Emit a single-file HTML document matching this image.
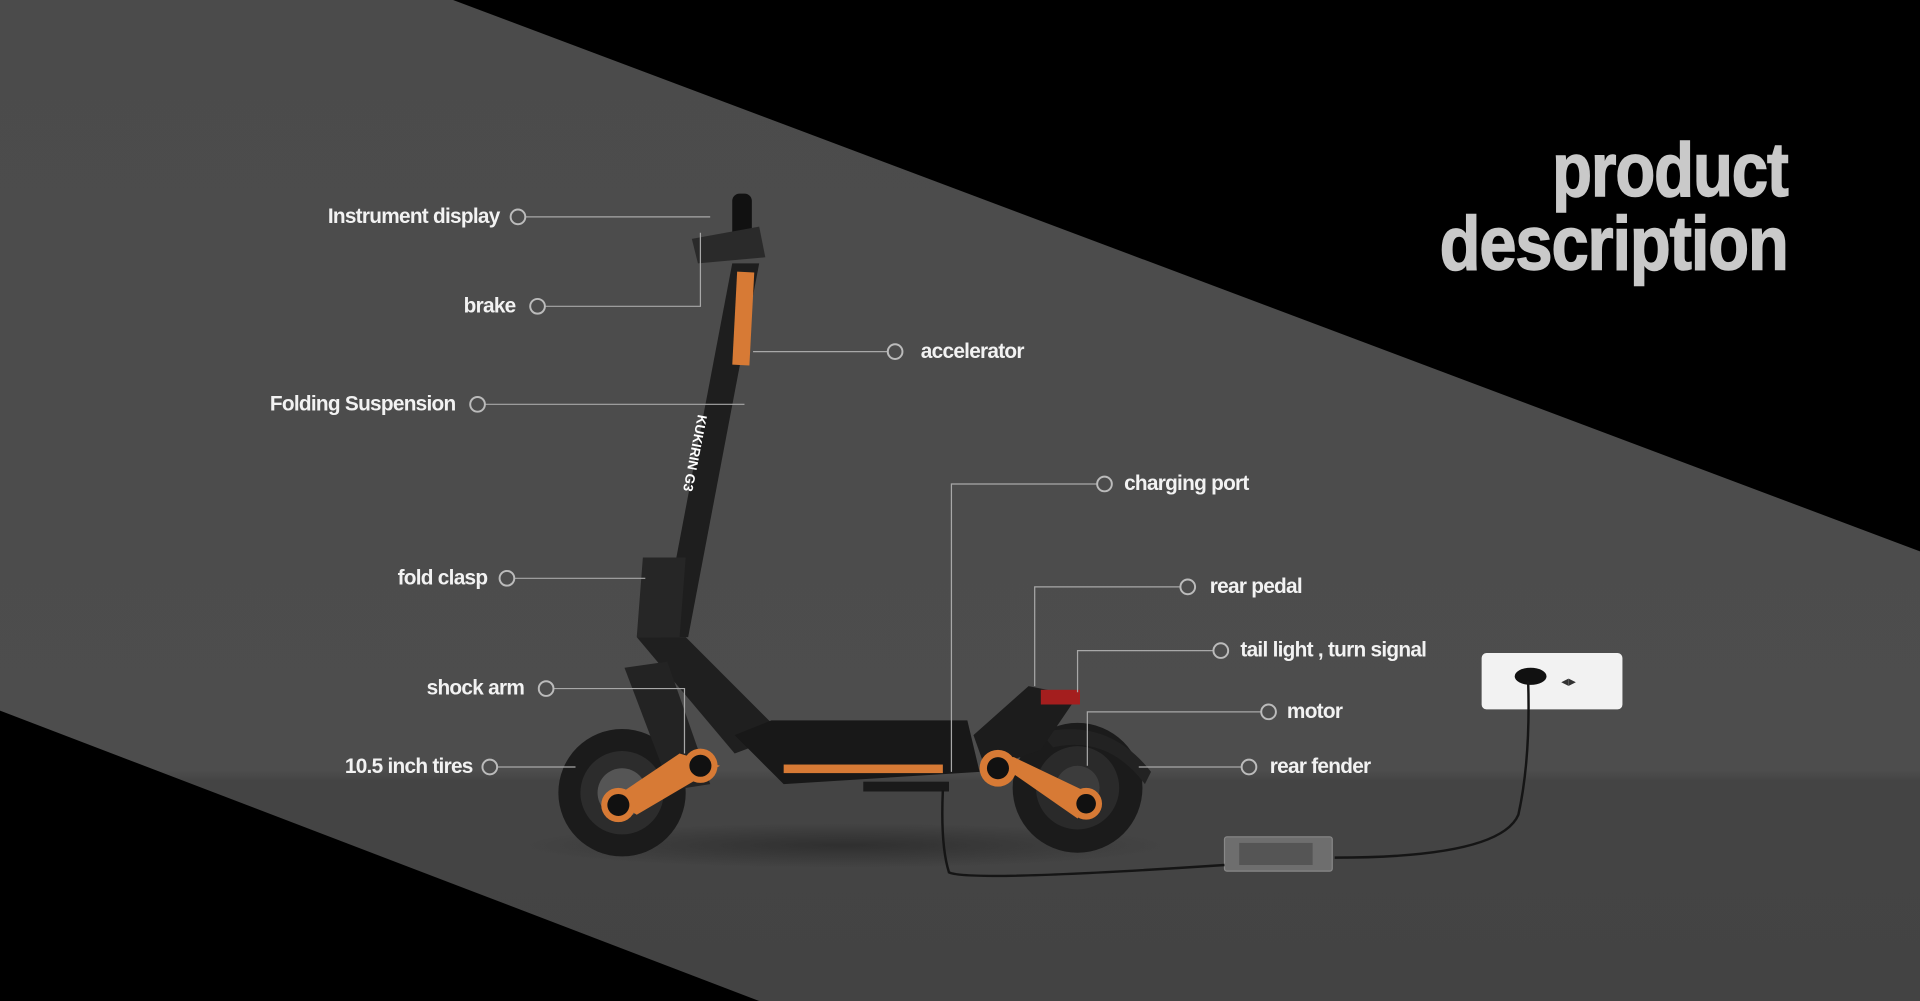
<!DOCTYPE html>
<html><head><meta charset="utf-8"><style>
html,body{margin:0;padding:0;background:#4a4a4a;overflow:hidden}
svg{display:block}
.l{font-family:"Liberation Sans",sans-serif;font-weight:bold;font-size:17px;fill:#f2f2f2;letter-spacing:-0.6px}
</style></head><body>
<svg width="1920" height="1001" viewBox="0 0 1568 817" preserveAspectRatio="none" xmlns="http://www.w3.org/2000/svg">
<defs>
<linearGradient id="bg" x1="0" y1="0" x2="0" y2="1">
<stop offset="0" stop-color="#4b4b4b"/><stop offset="0.77" stop-color="#4d4d4d"/><stop offset="0.78" stop-color="#444"/><stop offset="1" stop-color="#434343"/>
</linearGradient>
<radialGradient id="sh" cx="0.5" cy="0.5" r="0.5"><stop offset="0" stop-color="#2a2a2a" stop-opacity="0.8"/><stop offset="1" stop-color="#2a2a2a" stop-opacity="0"/></radialGradient>
</defs>
<rect width="1568" height="817" fill="url(#bg)"/>
<polygon points="370,0 1568,0 1568,450" fill="#000"/>
<polygon points="0,580 620,817 0,817" fill="#000"/>
<g font-family="Liberation Sans, sans-serif" font-weight="bold" fill="#c9c9c9" text-anchor="end" stroke="#c9c9c9" stroke-width="1.2">
<text x="1460" y="160" font-size="62" transform="translate(1460 0) scale(0.86 1) translate(-1460 0)" letter-spacing="-1">product</text>
<text x="1460" y="220" font-size="62" transform="translate(1460 0) scale(0.88 1) translate(-1460 0)" letter-spacing="-1">description</text>
</g>
<ellipse cx="690" cy="690" rx="260" ry="18" fill="url(#sh)"/>
<g>
<circle cx="508" cy="647" r="52" fill="#1b1b1b"/>
<circle cx="508" cy="647" r="34" fill="#2c2c2c"/>
<circle cx="508" cy="647" r="20" fill="#555"/>
<circle cx="880" cy="643" r="53" fill="#1b1b1b"/>
<circle cx="880" cy="643" r="34" fill="#2a2a2a"/>
<circle cx="880" cy="643" r="18" fill="#3c3c3c"/>
<path d="M850 598 Q905 585 940 630 L935 640 Q905 600 860 610 Z" fill="#222"/>
<polygon points="598,215 620,215 562,520 540,520" fill="#1e1e1e"/>
<rect x="600" y="222" width="14" height="76" fill="#d77a35" transform="rotate(3 607 260)"/>
<text x="0" y="0" font-family="Liberation Sans,sans-serif" font-size="11" font-weight="bold" fill="#fff" transform="translate(570 338) rotate(101)">KUKIRIN G3</text>
<rect x="598" y="158" width="16" height="40" rx="6" fill="#111"/>
<path d="M565 195 L620 185 L625 210 L570 215 Z" fill="#2a2a2a"/>
<polygon points="525,455 560,455 555,520 520,520" fill="#262626"/>
<polygon points="520,520 560,520 640,600 600,615" fill="#1f1f1f"/>
<polygon points="510,545 545,540 580,640 548,645" fill="#232323"/>
<polygon points="600,600 630,588 790,588 800,630 640,640" fill="#181818"/>
<rect x="640" y="624" width="130" height="7" fill="#d77a35"/>
<polygon points="795,600 840,560 880,568 850,612 805,628" fill="#1c1c1c"/>
<rect x="850" y="563" width="32" height="12" fill="#a41e1e"/>
<polygon points="555,615 588,625 520,665 500,652" fill="#d77a35"/>
<circle cx="572" cy="625" r="14" fill="#d77a35"/><circle cx="572" cy="625" r="9" fill="#111"/>
<circle cx="505" cy="657" r="14" fill="#d77a35"/><circle cx="505" cy="657" r="9" fill="#111"/>
<polygon points="808,618 828,618 895,650 880,668" fill="#d77a35"/>
<circle cx="815" cy="627" r="15" fill="#d77a35"/><circle cx="815" cy="627" r="9" fill="#111"/>
<circle cx="887" cy="656" r="13" fill="#d77a35"/><circle cx="887" cy="656" r="8" fill="#111"/>
<rect x="705" y="638" width="70" height="8" fill="#1a1a1a"/>
</g>
<rect x="1210" y="533" width="115" height="46" rx="4" fill="#f2f2f2"/>
<ellipse cx="1250" cy="552" rx="13" ry="7" fill="#111"/>
<text x="1275" y="560" font-size="12" fill="#333" font-family="Liberation Sans,sans-serif">◂▸</text>
<path d="M1248 556 Q1250 620 1240 665 Q1225 700 1090 700" stroke="#151515" stroke-width="2" fill="none"/>
<rect x="1000" y="683" width="88" height="28" rx="2" fill="#6e6e6e" stroke="#888"/>
<rect x="1012" y="688" width="60" height="18" fill="#555"/>
<path d="M770 645 Q768 690 775 712 Q790 720 1000 706" stroke="#151515" stroke-width="2" fill="none"/>
<g stroke="#a8a8a8" stroke-width="1" fill="none">
<polyline points="429,177 580,177"/>
<polyline points="445,250 572,250 572,190"/>
<polyline points="725,287 615,287"/>
<polyline points="396,330 608,330"/>
<polyline points="896,395 777,395 777,630"/>
<polyline points="420,472 527,472"/>
<polyline points="964,479 845,479 845,560"/>
<polyline points="452,562 559,562 559,615"/>
<polyline points="991,531 880,531 880,565"/>
<polyline points="1030,581 888,581 888,625"/>
<polyline points="406,626 470,626"/>
<polyline points="1014,626 930,626"/>
</g>
<g stroke="#bbb" stroke-width="1.6" fill="none">
<circle cx="423" cy="177" r="6"/><circle cx="439" cy="250" r="6"/><circle cx="731" cy="287" r="6"/>
<circle cx="390" cy="330" r="6"/><circle cx="902" cy="395" r="6"/><circle cx="414" cy="472" r="6"/>
<circle cx="970" cy="479" r="6"/><circle cx="446" cy="562" r="6"/><circle cx="997" cy="531" r="6"/>
<circle cx="1036" cy="581" r="6"/><circle cx="400" cy="626" r="6"/><circle cx="1020" cy="626" r="6"/>
</g>
<g class="l">
<text x="408" y="182" text-anchor="end">Instrument display</text>
<text x="421" y="255" text-anchor="end">brake</text>
<text x="752" y="292">accelerator</text>
<text x="372" y="335" text-anchor="end">Folding Suspension</text>
<text x="918" y="400">charging port</text>
<text x="398" y="477" text-anchor="end">fold clasp</text>
<text x="988" y="484">rear pedal</text>
<text x="428" y="567" text-anchor="end">shock arm</text>
<text x="1013" y="536">tail light , turn signal</text>
<text x="1051" y="586">motor</text>
<text x="386" y="631" text-anchor="end">10.5 inch tires</text>
<text x="1037" y="631">rear fender</text>
</g>
</svg>
</body></html>
